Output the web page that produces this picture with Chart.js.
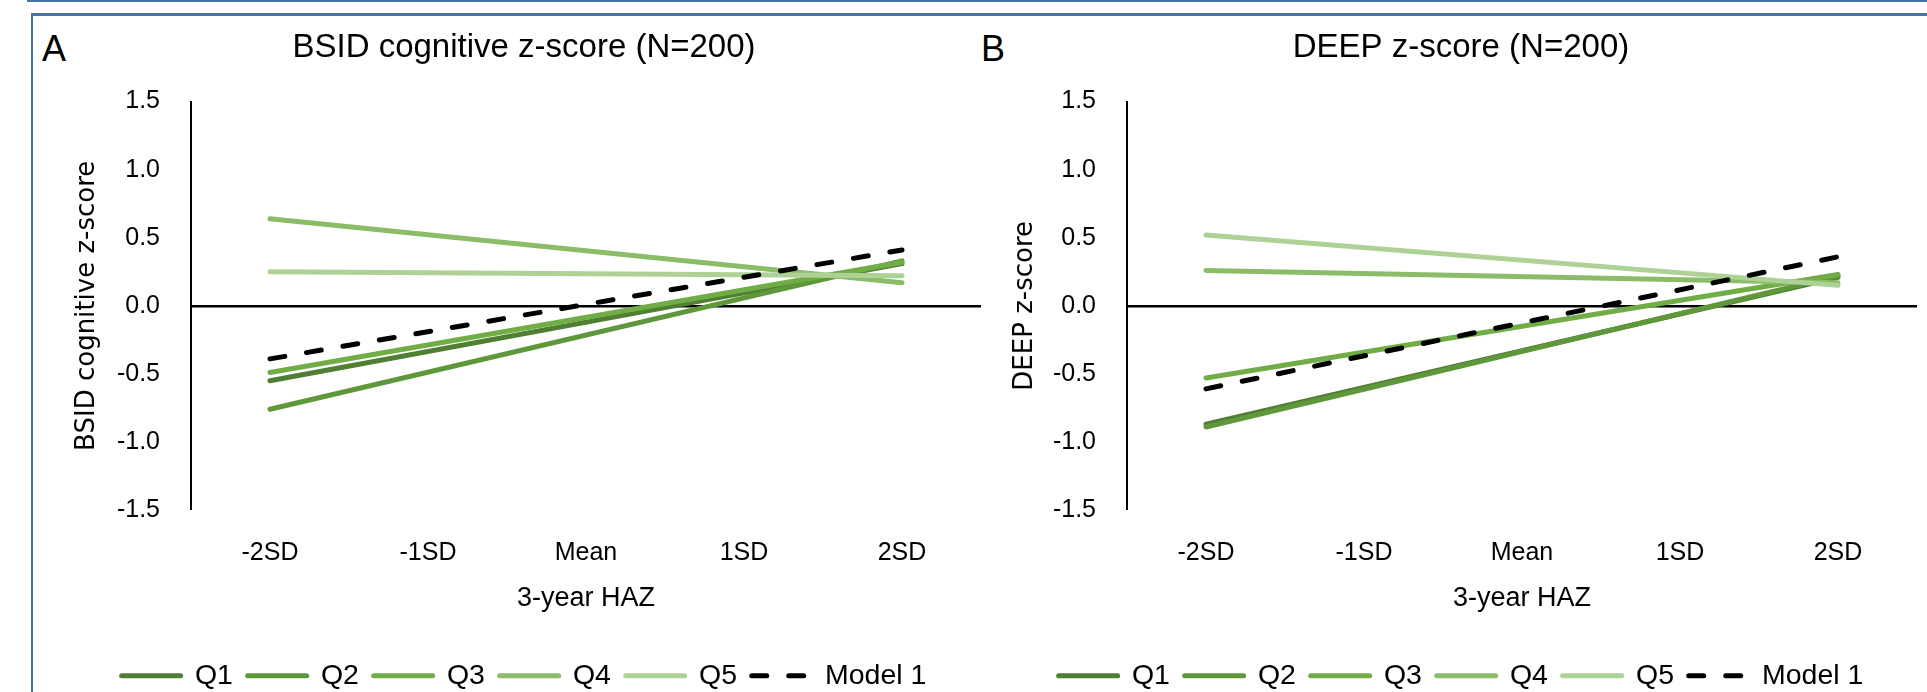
<!DOCTYPE html>
<html>
<head>
<meta charset="utf-8">
<script src="https://cdn.jsdelivr.net/npm/chart.js@4.4.1/dist/chart.umd.min.js"></script>
<style>
  body { margin: 0; width: 1927px; height: 692px; overflow: hidden; background: #fff; position: relative; }
  .rule { position: absolute; background: #4672a6; }
  .tag { position: absolute; top: 31px; font: 36px/36px "Liberation Sans", sans-serif; color: #000; }
  canvas { position: absolute; top: 0; }
</style>
</head>
<body>
<div class="rule" style="left:27px;top:0;width:1900px;height:2px"></div>
<div class="rule" style="left:31px;top:13px;width:1896px;height:3px"></div>
<div class="rule" style="left:31px;top:13px;width:2px;height:679px"></div>
<div class="tag" style="left:42px">A</div>
<div class="tag" style="left:981px">B</div>
<canvas id="chartA" width="954" height="700" style="left:47px"></canvas>
<canvas id="chartB" width="932" height="700" style="left:995px"></canvas>
<script>
// categories on the x axis (3-year HAZ)
const haz = ["-2SD", "-1SD", "Mean", "1SD", "2SD"];
const groupNames = ["Q1", "Q2", "Q3", "Q4", "Q5", "Model 1"];
const groupColors = ["#507e32", "#5e983b", "#70ad47", "#8bbd69", "#aed196", "#000000"];

// panel A: BSID cognitive z-score, straight lines from -2SD to 2SD
const bsidQ1 = [-0.55, null, null, null, 0.31];
const bsidQ2 = [-0.76, null, null, null, 0.33];
const bsidQ3 = [-0.49, null, null, null, 0.32];
const bsidQ4 = [0.64, null, null, null, 0.17];
const bsidQ5 = [0.25, null, null, null, 0.22];
const bsidModel = [-0.39, null, null, null, 0.41];

// panel B: DEEP z-score
const deepQ1 = [-0.87, null, null, null, 0.21];
const deepQ2 = [-0.89, null, null, null, 0.22];
const deepQ3 = [-0.53, null, null, null, 0.23];
const deepQ4 = [0.26, null, null, null, 0.17];
const deepQ5 = [0.52, null, null, null, 0.15];
const deepModel = [-0.61, null, null, null, 0.36];

const yTicks = [-1.5, -1.0, -0.5, 0.0, 0.5, 1.0, 1.5];

Chart.defaults.font.family = '"Liberation Sans", sans-serif';
Chart.defaults.color = "#000";

function makeChart(id, title, yTitle, series, yWidth, sidePad) {
  const datasets = series.map((vals, i) => ({
    label: groupNames[i],
    data: vals,
    borderColor: groupColors[i],
    backgroundColor: groupColors[i],
    borderWidth: 5,
    borderCapStyle: "round",
    borderDash: i === 5 ? [15, 22] : [],
    pointRadius: 0,
    pointStyle: "line",
    spanGaps: true,
    tension: 0,
    fill: false,
    order: 6 - i
  }));

  return new Chart(document.getElementById(id), {
    type: "line",
    data: { labels: haz, datasets: datasets },
    options: {
      responsive: false,
      animation: false,
      devicePixelRatio: 1,
      layout: { padding: { left: sidePad, right: sidePad, top: 0, bottom: 0 } },
      plugins: {
        title: {
          display: true,
          text: title,
          font: { size: 33, weight: "normal" },
          color: "#000",
          padding: { top: 28, bottom: 34 }
        },
        legend: {
          position: "bottom",
          labels: {
            usePointStyle: true,
            pointStyleWidth: 59,
            padding: 14.75,
            font: { size: 28.5 },
            color: "#000",
            sort: (a, b) => a.datasetIndex - b.datasetIndex,
            generateLabels: chart => Chart.defaults.plugins.legend.labels.generateLabels(chart).map(item => {
              const ds = chart.data.datasets[item.datasetIndex];
              item.pointStyle = "line";
              item.lineWidth = ds.borderWidth;
              item.strokeStyle = ds.borderColor;
              item.fillStyle = ds.borderColor;
              item.lineDash = ds.borderDash;
              item.lineCap = "round";
              return item;
            })
          }
        },
        tooltip: { enabled: false }
      },
      scales: {
        x: {
          offset: true,
          grid: { display: false, drawTicks: false },
          border: { display: false },
          ticks: { font: { size: 25 }, color: "#000", padding: 28 },
          title: {
            display: true,
            text: "3-year HAZ",
            font: { size: 27 },
            color: "#000",
            padding: { top: 8, bottom: 32.5 }
          },
          afterFit: s => { s.height = 136.75; }
        },
        y: {
          min: -1.5,
          max: 1.5,
          afterBuildTicks: s => { s.ticks = yTicks.map(v => ({ value: v })); },
          ticks: {
            font: { size: 25 },
            color: "#000",
            padding: 31,
            callback: v => Number(v).toFixed(1)
          },
          grid: {
            drawTicks: false,
            color: c => (c.tick && c.tick.value === 0 ? "#000" : "rgba(0,0,0,0)"),
            lineWidth: c => (c.tick && c.tick.value === 0 ? 2.5 : 0)
          },
          border: { display: true, color: "#000", width: 2 },
          title: {
            display: true,
            text: yTitle,
            font: { family: '"DejaVu Sans", sans-serif', size: 26 },
            color: "#000",
            padding: { top: 5, bottom: 0 }
          },
          afterFit: s => { s.width = yWidth; }
        }
      }
    }
  });
}

makeChart("chartA", "BSID cognitive z-score (N=200)", "BSID cognitive z-score",
  [bsidQ1, bsidQ2, bsidQ3, bsidQ4, bsidQ5, bsidModel], 124, 20);
makeChart("chartB", "DEEP z-score (N=200)", "DEEP z-score",
  [deepQ1, deepQ2, deepQ3, deepQ4, deepQ5, deepModel], 122, 10);
</script>
</body>
</html>
